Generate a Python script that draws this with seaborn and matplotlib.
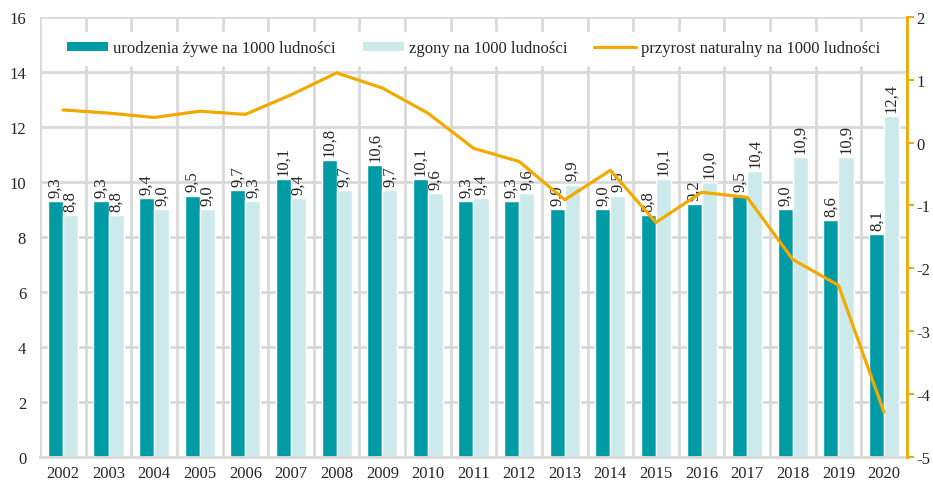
import numpy as np
import pandas as pd
import seaborn as sns
import matplotlib.pyplot as plt
from matplotlib.patches import Patch
from matplotlib.lines import Line2D


# =========================================================
# DATA
# =========================================================

years = [str(y) for y in range(2002, 2021)]
births = [9.3, 9.3, 9.4, 9.5, 9.7, 10.1, 10.8, 10.6, 10.1, 9.3,
          9.3, 9.0, 9.0, 8.8, 9.2, 9.5, 9.0, 8.6, 8.1]
deaths = [8.8, 8.8, 9.0, 9.0, 9.3, 9.4, 9.7, 9.7, 9.6, 9.4,
          9.6, 9.9, 9.5, 10.1, 10.0, 10.4, 10.9, 10.9, 12.4]
increase = [0.52, 0.47, 0.40, 0.50, 0.45, 0.76, 1.11, 0.87, 0.47, -0.09,
            -0.30, -0.91, -0.44, -1.27, -0.79, -0.87, -1.86, -2.27, -4.29]

lab_births = "urodzenia żywe na 1000 ludności"
lab_deaths = "zgony na 1000 ludności"
lab_incr = "przyrost naturalny na 1000 ludności"

C_BIRTH = "#009BA5"
C_DEATH = "#CCEAEB"
C_LINE = "#F2AA00"
C_GRID = "#D9D9D9"
FS = 12

# =========================================================
# PLOT
# =========================================================

sns.set_style("white")
plt.rcParams["font.family"] = ["Liberation Serif", "DejaVu Serif"]
plt.rcParams["axes.unicode_minus"] = False

df = pd.DataFrame({"rok": years, lab_births: births, lab_deaths: deaths})
long = df.melt(id_vars="rok", var_name="seria", value_name="wartosc")

fig = plt.figure(figsize=(9.33, 4.85), dpi=100)
ax = fig.add_axes([0.043, 0.056, 0.929, 0.907])

sns.barplot(data=long, x="rok", y="wartosc", hue="seria",
            palette=[C_BIRTH, C_DEATH], width=0.66, ax=ax,
            legend=False, saturation=1)

ax.set_ylim(0, 16)
ax.set_xlim(-0.5, len(years) - 0.5)
ax.set_yticks(np.arange(0, 17, 2))
ax.set_xlabel("")
ax.set_ylabel("")
ax.tick_params(axis="both", labelsize=FS, length=0, pad=6)
ax.tick_params(axis="y", pad=10)

# grid: horizontal at y ticks, vertical at category boundaries
for yv in np.arange(2, 17, 2):
    ax.axhline(yv, color=C_GRID, lw=2, zorder=0)
for xv in np.arange(-0.5, len(years), 1.0):
    ax.axvline(xv, color=C_GRID, lw=2, zorder=0)
ax.set_axisbelow(True)
for s in ["top", "right", "left"]:
    ax.spines[s].set_visible(False)
ax.spines["bottom"].set_color(C_GRID)
ax.spines["bottom"].set_linewidth(2)

# value labels
for cont in ax.containers:
    ax.bar_label(cont, labels=[f"{v:.1f}".replace(".", ",") for v in cont.datavalues],
                 rotation=90, fontsize=FS, padding=3)

# secondary axis
ax2 = ax.twinx()
ax2.plot(np.arange(len(years)), increase, color=C_LINE, lw=2.3)
ax2.set_ylim(-5, 2)
ax2.set_yticks(np.arange(-5, 3, 1))
ax2.tick_params(axis="y", labelsize=FS, direction="out", length=5,
                width=1.5, color=C_LINE, pad=2)
for s in ["top", "left", "bottom"]:
    ax2.spines[s].set_visible(False)
ax2.spines["right"].set_color(C_LINE)
ax2.spines["right"].set_linewidth(2)

handles = [Patch(facecolor=C_BIRTH, edgecolor="none"),
           Patch(facecolor=C_DEATH, edgecolor="none"),
           Line2D([0], [0], color=C_LINE, lw=2.3)]
leg = ax2.legend(handles, [lab_births, lab_deaths, lab_incr], ncol=3,
                 loc="upper center", bbox_to_anchor=(0.5, 0.985),
                 fontsize=FS, frameon=True, fancybox=False,
                 handlelength=2.5, handleheight=0.45, handletextpad=0.3,
                 columnspacing=1.6, borderpad=0.5)
leg.get_frame().set_facecolor("white")
leg.get_frame().set_edgecolor("white")
leg.get_frame().set_alpha(1)

fig.savefig("out.png", dpi=100)
